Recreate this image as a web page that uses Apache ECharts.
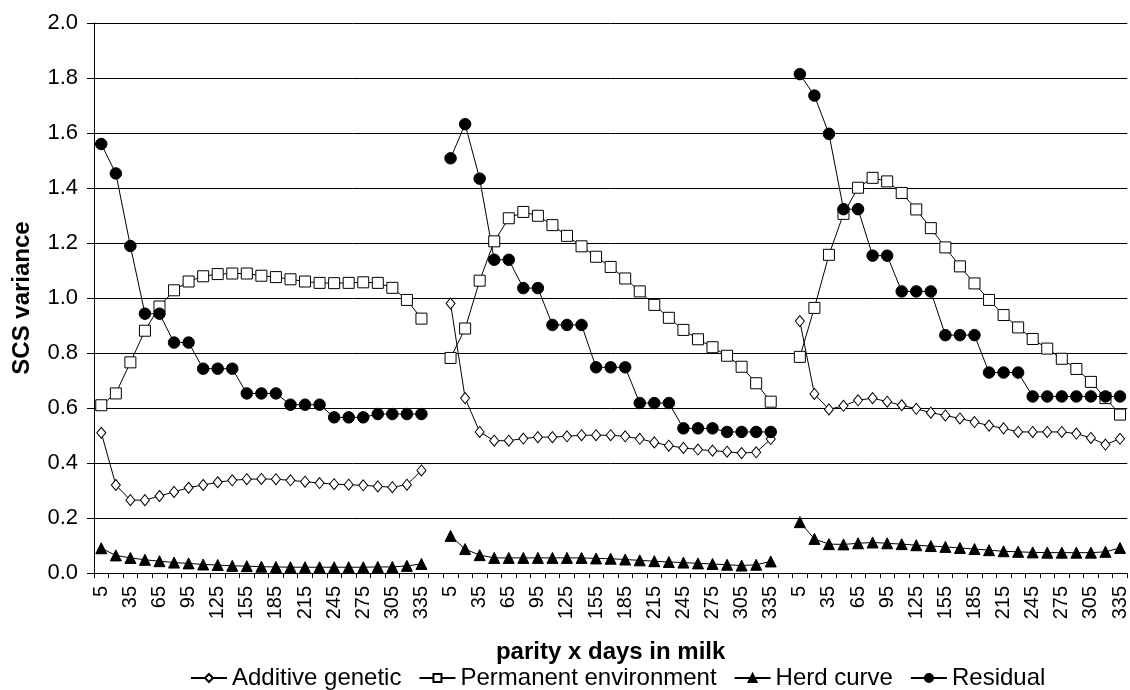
<!DOCTYPE html>
<html>
<head>
<meta charset="utf-8">
<script src="https://cdn.jsdelivr.net/npm/echarts@6/dist/echarts.min.js"></script>
<style>
  html, body { margin: 0; padding: 0; background: #fff; }
  #chart { width: 1130px; height: 690px; }
</style>
</head>
<body>
<div id="chart"></div>
<script>
// Days in milk within each parity (category labels)
const days = ['5','20','35','50','65','80','95','110','125','140','155','170','185','200','215','230','245','260','275','290','305','320','335'];

// Additive genetic, parity 1..3
const addGen1 = [0.51, 0.32, 0.265, 0.265, 0.28, 0.295, 0.31, 0.32, 0.33, 0.337, 0.341, 0.342, 0.341, 0.337, 0.332, 0.327, 0.323, 0.321, 0.319, 0.315, 0.312, 0.321, 0.373];
const addGen2 = [0.98, 0.636, 0.513, 0.481, 0.481, 0.489, 0.494, 0.494, 0.497, 0.501, 0.501, 0.501, 0.497, 0.488, 0.475, 0.463, 0.455, 0.449, 0.445, 0.441, 0.436, 0.439, 0.487];
const addGen3 = [0.916, 0.651, 0.595, 0.608, 0.628, 0.636, 0.623, 0.61, 0.597, 0.583, 0.573, 0.562, 0.549, 0.536, 0.526, 0.513, 0.513, 0.513, 0.513, 0.507, 0.491, 0.467, 0.488];

// Permanent environment, parity 1..3
const permEnv1 = [0.61, 0.653, 0.766, 0.881, 0.969, 1.028, 1.06, 1.079, 1.087, 1.089, 1.089, 1.081, 1.076, 1.068, 1.06, 1.055, 1.054, 1.055, 1.057, 1.055, 1.037, 0.993, 0.925];
const permEnv2 = [0.782, 0.889, 1.063, 1.206, 1.29, 1.313, 1.299, 1.265, 1.226, 1.188, 1.15, 1.113, 1.071, 1.024, 0.975, 0.928, 0.884, 0.85, 0.821, 0.79, 0.75, 0.69, 0.623];
const permEnv3 = [0.786, 0.964, 1.157, 1.306, 1.401, 1.437, 1.424, 1.382, 1.322, 1.254, 1.184, 1.115, 1.053, 0.993, 0.938, 0.893, 0.851, 0.816, 0.779, 0.742, 0.695, 0.636, 0.576];

// Herd curve, parity 1..3
const herd1 = [0.09, 0.064, 0.055, 0.048, 0.043, 0.038, 0.035, 0.031, 0.029, 0.026, 0.025, 0.023, 0.022, 0.021, 0.021, 0.021, 0.021, 0.021, 0.021, 0.022, 0.022, 0.026, 0.033];
const herd2 = [0.135, 0.087, 0.065, 0.055, 0.055, 0.055, 0.055, 0.055, 0.055, 0.055, 0.053, 0.052, 0.049, 0.046, 0.043, 0.04, 0.038, 0.035, 0.033, 0.03, 0.027, 0.03, 0.042];
const herd3 = [0.185, 0.124, 0.105, 0.104, 0.108, 0.111, 0.108, 0.105, 0.101, 0.098, 0.095, 0.091, 0.087, 0.083, 0.079, 0.077, 0.075, 0.074, 0.074, 0.074, 0.074, 0.077, 0.091];

// Residual, parity 1..3
const resid1 = [1.56, 1.453, 1.189, 0.943, 0.943, 0.838, 0.838, 0.743, 0.743, 0.743, 0.653, 0.653, 0.653, 0.612, 0.612, 0.612, 0.566, 0.566, 0.566, 0.578, 0.578, 0.578, 0.578];
const resid2 = [1.508, 1.632, 1.434, 1.139, 1.139, 1.036, 1.036, 0.902, 0.902, 0.902, 0.748, 0.748, 0.748, 0.618, 0.618, 0.618, 0.526, 0.526, 0.526, 0.513, 0.513, 0.513, 0.513];
const resid3 = [1.814, 1.736, 1.597, 1.323, 1.323, 1.154, 1.154, 1.024, 1.024, 1.024, 0.865, 0.865, 0.865, 0.729, 0.729, 0.729, 0.642, 0.642, 0.642, 0.642, 0.642, 0.642, 0.642];

const seriesNames = ['Additive genetic', 'Permanent environment', 'Herd curve', 'Residual'];

// one blank category between parities
const categories = [].concat(days, [''], days, [''], days);
function joinParities(a, b, c) { return [].concat(a, [null], b, [null], c); }

const FONT = '"Liberation Sans", Arial, sans-serif';

const chart = echarts.init(document.getElementById('chart'), null, { renderer: 'canvas' });

function lineSeries(name, data, symbol, size, fill) {
  return {
    name: name,
    type: 'line',
    data: data,
    connectNulls: false,
    symbol: symbol,
    symbolSize: size,
    showAllSymbol: true,
    lineStyle: { color: '#000', width: 1 },
    itemStyle: { color: fill, borderColor: '#000', borderWidth: 1 },
    emphasis: { disabled: true },
    animation: false
  };
}

chart.setOption({
  animation: false,
  backgroundColor: '#fff',
  grid: { left: 94, right: 1, top: 23, bottom: 117 },
  legend: {
    left: 190,
    top: 666,
    padding: 0,
    itemWidth: 36,
    itemHeight: 10,
    itemGap: 17,
    textStyle: { fontFamily: FONT, fontSize: 24, color: '#000' },
    data: seriesNames
  },
  xAxis: {
    type: 'category',
    data: categories,
    boundaryGap: true,
    name: 'parity x days in milk',
    nameLocation: 'middle',
    nameGap: 67,
    nameTextStyle: { fontFamily: FONT, fontSize: 24, fontWeight: 'bold', color: '#000' },
    axisLine: { lineStyle: { color: '#000', width: 1 } },
    axisTick: { show: true, interval: 0, length: 5, lineStyle: { color: '#000' } },
    axisLabel: { interval: 1, rotate: 90, margin: 13, fontFamily: FONT, fontSize: 20, color: '#000' },
    splitLine: { show: false }
  },
  yAxis: {
    type: 'value',
    min: 0,
    max: 2,
    interval: 0.2,
    name: 'SCS variance',
    nameLocation: 'middle',
    nameGap: 60,
    nameTextStyle: { fontFamily: FONT, fontSize: 24, fontWeight: 'bold', color: '#000' },
    axisLine: { show: true, lineStyle: { color: '#000', width: 1 } },
    axisTick: { show: true, length: 7, lineStyle: { color: '#000' } },
    axisLabel: { margin: 16, fontFamily: FONT, fontSize: 22, color: '#000', formatter: v => v.toFixed(1) },
    splitLine: { show: true, lineStyle: { color: '#000', width: 1 } }
  },
  series: [
    lineSeries(seriesNames[0], joinParities(addGen1, addGen2, addGen3), 'diamond', [9, 11], '#fff'),
    lineSeries(seriesNames[1], joinParities(permEnv1, permEnv2, permEnv3), 'rect', 11, '#fff'),
    lineSeries(seriesNames[2], joinParities(herd1, herd2, herd3), 'triangle', 11, '#000'),
    lineSeries(seriesNames[3], joinParities(resid1, resid2, resid3), 'circle', 11.5, '#000')
  ]
});
</script>
</body>
</html>
